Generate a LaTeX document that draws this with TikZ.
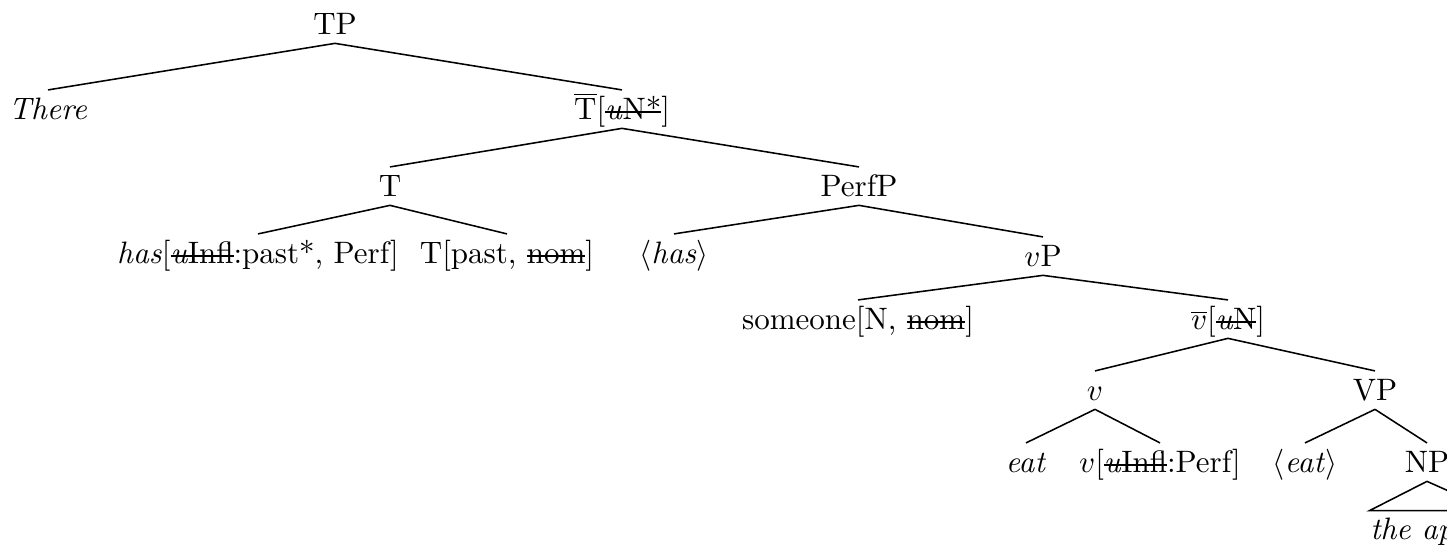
\documentclass[tikz,border=0pt]{standalone}
\newcommand{\strk}[1]{\setbox0=\hbox{#1}\leavevmode\rlap{\copy0}\rule[0.55ex]{\wd0}{0.4pt}}
\begin{document}
\begin{tikzpicture}[x=0.32258pt,y=-0.32258pt,
  tn/.style={inner xsep=0pt, inner ysep=0pt, text height=9.5pt, text depth=2.5pt, anchor=base},
  br/.style={line width=0.5pt}]
\useasboundingbox (0,0) rectangle (1447,546);
\clip (0,0) rectangle (1447,546);
\node[tn] (TP) at (335,35) {TP};
\node[tn] (There) at (48,120) {\textit{There}};
\node[tn] (Tbar) at (622,120) {$\overline{\mathrm{T}}$[\strk{\textit{u}N*}]};
\node[tn] (T) at (390,197) {T};
\node[tn] (PerfP) at (859,197) {PerfP};
\node[tn] (has) at (258,264) {\textit{has}[\strk{\textit{u}Infl}:past*, Perf]};
\node[tn] (Tpast) at (507,264) {T[past, \strk{nom}]};
\node[tn] (hasT) at (674,264) {$\langle$\textit{has}$\rangle$};
\node[tn] (vP) at (1043,267) {$v$P};
\node[tn] (someone) at (858,330) {someone[N, \strk{nom}]};
\node[tn] (vbar) at (1228,330) {$\overline{v}$[\strk{\textit{u}N}]};
\node[tn] (v) at (1095,401) {$v$};
\node[tn] (VP) at (1375,401) {VP};
\node[tn] (eat) at (1026,473) {\textit{eat}};
\node[tn] (vInfl) at (1160,473) {$v$[\strk{\textit{u}Infl}:Perf]};
\node[tn] (eatT) at (1305,473) {$\langle$\textit{eat}$\rangle$};
\node[tn] (NP) at (1427,473) {NP};
\node[tn, text height=9.3pt] (apple) at (1431,540) {\textit{the apple}};
\draw[br] (TP.south) -- (There.north);
\draw[br] (TP.south) -- (Tbar.north);
\draw[br] (Tbar.south) -- (T.north);
\draw[br] (Tbar.south) -- (PerfP.north);
\draw[br] (T.south) -- (has.north);
\draw[br] (T.south) -- (Tpast.north);
\draw[br] (PerfP.south) -- (hasT.north);
\draw[br] (PerfP.south) -- (vP.north);
\draw[br] (vP.south) -- (someone.north);
\draw[br] (vP.south) -- (vbar.north);
\draw[br] (vbar.south) -- (v.north);
\draw[br] (vbar.south) -- (VP.north);
\draw[br] (v.south) -- (eat.north);
\draw[br] (v.south) -- (vInfl.north);
\draw[br] (VP.south) -- (eatT.north);
\draw[br] (VP.south) -- (NP.north);
\draw[br] (NP.south) -- (apple.north west) -- (apple.north east) -- cycle;
\end{tikzpicture}
\end{document}
